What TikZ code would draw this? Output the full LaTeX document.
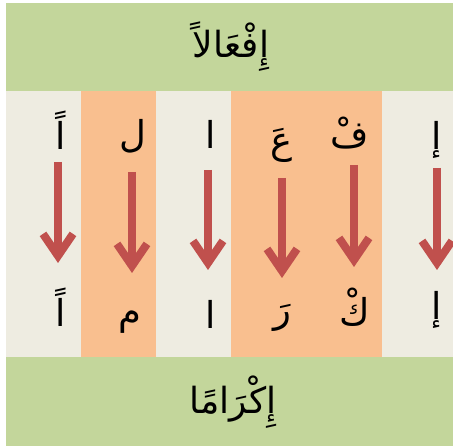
\documentclass[tikz,border=0pt]{standalone}
\usepackage{fontspec}
\newfontfamily\arabicfont[Script=Arabic]{DejaVu Sans}
\TeXXeTstate=1
\usepackage{tikz}
\usetikzlibrary{arrows.meta}

\definecolor{bandgreen}{HTML}{C3D69B}
\definecolor{colorange}{HTML}{F9BF8F}
\definecolor{colbeige}{HTML}{EEECE1}
\definecolor{arrowred}{HTML}{C0504D}

\tikzset{
    letter/.style={font=\arabicfont\fontsize{37}{44}\selectfont, inner sep=0pt},
    title/.style={font=\arabicfont\fontsize{36}{43}\selectfont, inner sep=0pt},
    downarrow/.style={draw=arrowred, line width=8pt,
        -{Straight Barb[length=22pt,width=30pt]}}
}

\begin{document}
\begin{tikzpicture}[x=1pt,y=-1pt]
        \useasboundingbox (0,0) rectangle (453,446);

        % bands and columns
        \fill [bandgreen] (6,3) rectangle (453,91);
        \fill [bandgreen] (6,357) rectangle (453,446);
        \fill [colbeige] (6,91) rectangle (81,357);
        \fill [colorange] (81,91) rectangle (156,357);
        \fill [colbeige] (156,91) rectangle (231,357);
        \fill [colorange] (231,91) rectangle (382,357);
        \fill [colbeige] (382,91) rectangle (453,357);

        \node [title] (from) at (231,47) {\beginR إِفْعَالاً\endR};
        \node [title] (to) at (233,402) {\beginR إِكْرَامًا\endR};

        % letters above
        \node [letter] (t1) at (61,130) {\beginR اً\endR};
        \node [letter] (t2) at (133,136) {\beginR ل\endR};
        \node [letter] (t3) at (211,134) {\beginR ا\endR};
        \node [letter] (t4) at (282,145) {\beginR عَ\endR};
        \node [letter] (t5) at (350,133) {\beginR فْ\endR};
        \node [letter] (t6) at (437,140) {\beginR إ\endR};

        % letters below
        \node [letter] (b1) at (61,307) {\beginR اً\endR};
        \node [letter] (b2) at (130,322) {\beginR م\endR};
        \node [letter] (b3) at (211,314) {\beginR ا\endR};
        \node [letter] (b4) at (282,318) {\beginR رَ\endR};
        \node [letter] (b5) at (355,307) {\beginR كْ\endR};
        \node [letter] (b6) at (437,310) {\beginR إ\endR};

        % arrows
        \coordinate (s1) at (58,162);   \coordinate (e1) at (58,263);
        \coordinate (s2) at (132,172);  \coordinate (e2) at (132,273);
        \coordinate (s3) at (208,170);  \coordinate (e3) at (208,270);
        \coordinate (s4) at (282,178);  \coordinate (e4) at (282,278);
        \coordinate (s5) at (354,165);  \coordinate (e5) at (354,267);
        \coordinate (s6) at (437,168);  \coordinate (e6) at (437,270);
        \foreach \i in {1,...,6}
            \draw [downarrow] (s\i) -- (e\i);
    \end{tikzpicture}
\end{document}
